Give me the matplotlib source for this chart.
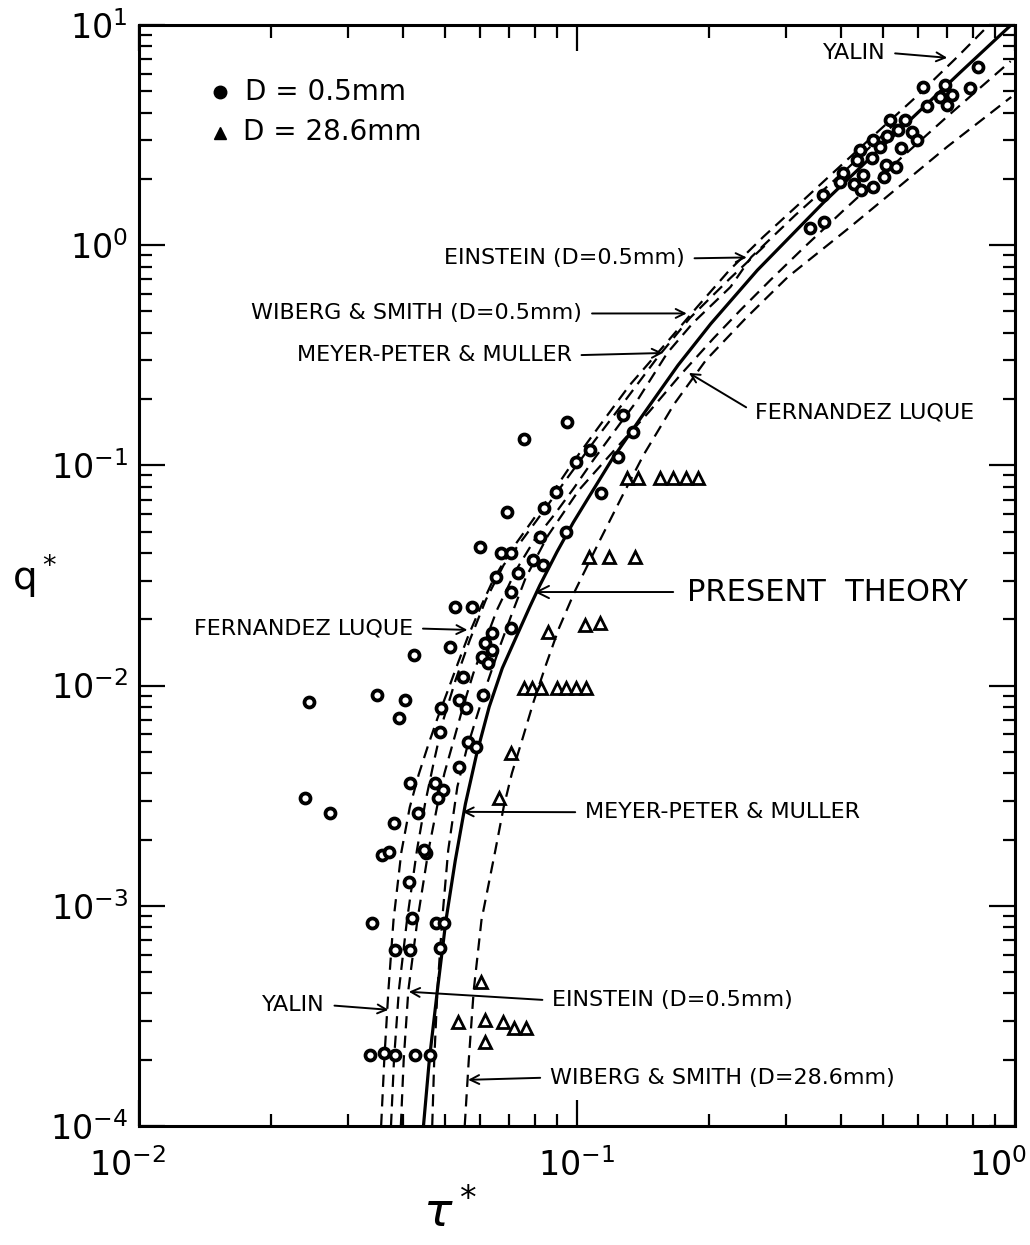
"""Bedload transport q* vs Shields stress tau*: data for D=0.5mm and
D=28.6mm against the present theory and five empirical formulas."""

import matplotlib
matplotlib.use("Agg")
import matplotlib.pyplot as plt
from matplotlib.transforms import ScaledTranslation
from matplotlib.ticker import LogLocator, NullFormatter

INK = "black"

# measured points, D = 0.5 mm (hollow circles)
fine_tau = [0.824, 0.791, 0.616, 0.692, 0.719, 0.675, 0.631, 0.701, 0.518, 0.561,
            0.541, 0.583, 0.511, 0.598, 0.473, 0.492, 0.443, 0.548, 0.436, 0.472,
            0.507, 0.535, 0.405, 0.449, 0.501, 0.399, 0.428, 0.444, 0.473, 0.365,
            0.341, 0.366, 0.127, 0.134, 0.107, 0.0992, 0.124, 0.0948, 0.0757, 0.1136,
            0.0897, 0.0840, 0.0693, 0.0946, 0.0601, 0.0671, 0.0706, 0.0824, 0.0792, 0.0834,
            0.0734, 0.0652, 0.0705, 0.0526, 0.0577, 0.0641, 0.0706, 0.0514, 0.0425, 0.0615,
            0.0638, 0.0607, 0.0625, 0.0548, 0.0537, 0.0490, 0.0557, 0.0611, 0.0244, 0.0350,
            0.0405, 0.0393, 0.0486, 0.0565, 0.0589, 0.0537, 0.0415, 0.0473, 0.0493, 0.0481,
            0.0434, 0.0382, 0.0451, 0.0239, 0.0273, 0.0358, 0.0373, 0.0414, 0.0341, 0.0420,
            0.0477, 0.0498, 0.0385, 0.0416, 0.0486, 0.0337, 0.0363, 0.0384, 0.0426, 0.0461,
            0.0447]
fine_q = [6.44, 5.17, 5.22, 5.34, 4.81, 4.71, 4.29, 4.34, 3.70, 3.70,
          3.34, 3.27, 3.13, 3.01, 3.01, 2.79, 2.71, 2.76, 2.44, 2.49,
          2.31, 2.26, 2.13, 2.08, 2.04, 1.94, 1.90, 1.78, 1.84, 1.69,
          1.20, 1.27, 0.169, 0.142, 0.1175, 0.1038, 0.109, 0.157, 0.132, 0.075,
          0.0757, 0.0641, 0.0614, 0.0499, 0.0427, 0.040, 0.040, 0.0473, 0.0372, 0.0353,
          0.0325, 0.0311, 0.0266, 0.0228, 0.0228, 0.0173, 0.0183, 0.0150, 0.01377, 0.01563,
          0.01452, 0.0135, 0.01268, 0.01094, 0.00861, 0.00792, 0.00792, 0.00906, 0.00843, 0.00906,
          0.00861, 0.00713, 0.00616, 0.00555, 0.00526, 0.00428, 0.00361, 0.00361, 0.00336, 0.00309,
          0.00264, 0.00238, 0.00174, 0.00309, 0.00264, 0.00170, 0.00176, 0.00128, 0.000836, 0.00088,
          0.000836, 0.000836, 0.000631, 0.000631, 0.000644, 0.00021, 0.000215, 0.00021, 0.00021, 0.00021,
          0.00179]

# measured points, D = 28.6 mm (hollow triangles)
coarse_tau = [0.130, 0.138, 0.155, 0.166, 0.177, 0.189,
              0.1065, 0.1185, 0.1355,
              0.0860, 0.1042, 0.113,
              0.0755, 0.0791, 0.0828, 0.0899, 0.0942, 0.0993, 0.1047,
              0.0706, 0.0662, 0.0605,
              0.0536, 0.0617, 0.0676, 0.0719, 0.0766, 0.0617]
coarse_q = [0.0877, 0.0877, 0.0877, 0.0877, 0.0877, 0.0877,
            0.0384, 0.0384, 0.0384,
            0.01754, 0.01885, 0.01925,
            0.00975, 0.00975, 0.00975, 0.00975, 0.00975, 0.00975, 0.00975,
            0.00494, 0.00309, 0.000451,
            0.000297, 0.000303, 0.000297, 0.000279, 0.000279, 0.000241]

# present theory (solid)
theory_tau = [0.0446, 0.0460, 0.0480, 0.0502, 0.0527, 0.0556, 0.0590, 0.0630,
              0.0675, 0.0730, 0.0780, 0.0822, 0.0900, 0.0980, 0.106, 0.120,
              0.140, 0.170, 0.202, 0.258, 0.365, 0.533, 0.750, 1.0]
theory_q = [1.0e-4, 2.0e-4, 4.15e-4, 8.6e-4, 1.6e-3, 2.9e-3, 4.9e-3, 8.0e-3,
            0.0120, 0.0170, 0.0228, 0.0285, 0.0405, 0.0550, 0.071, 0.106,
            0.165, 0.285, 0.44, 0.77, 1.56, 3.2, 6.1, 10.4]

# empirical formulas (dashed)
yalin_tau = [0.0357, 0.0363, 0.0371, 0.0381, 0.0397, 0.0415, 0.0435, 0.0457, 0.0480,
             0.0507, 0.0535, 0.0565, 0.0604, 0.0645, 0.0700, 0.0800, 0.0887, 0.0981,
             0.113, 0.132, 0.157, 0.188, 0.223, 0.266, 0.335, 0.450, 0.600, 0.740, 0.880]
yalin_q = [1.0e-4, 2.0e-4, 4.15e-4, 8.6e-4, 1.75e-3, 2.8e-3, 3.95e-3, 5.35e-3, 7.1e-3,
           9.5e-3, 0.0127, 0.0169, 0.0230, 0.0305, 0.0400, 0.0580, 0.0773, 0.104,
           0.153, 0.232, 0.345, 0.524, 0.772, 1.09, 1.66, 2.85, 4.8, 7.2, 10.2]

wiberg_fine_tau = [0.0376, 0.0382, 0.0392, 0.0409, 0.0431, 0.0450, 0.0472, 0.0495, 0.0528,
                   0.0569, 0.0619, 0.0680, 0.0810, 0.0943, 0.110, 0.129, 0.1524, 0.181,
                   0.224, 0.269]
wiberg_fine_q = [1.0e-4, 2.0e-4, 4.15e-4, 8.6e-4, 1.79e-3, 2.93e-3, 4.59e-3, 6.98e-3, 0.0106,
                 0.0161, 0.0245, 0.0353, 0.0565, 0.0859, 0.1305, 0.198, 0.308, 0.467,
                 0.710, 1.0]

einstein_tau = [0.0396, 0.0402, 0.0412, 0.0432, 0.0458, 0.0481, 0.0498, 0.0523, 0.0549,
                0.0580, 0.0615, 0.0656, 0.0726, 0.0800, 0.0889, 0.0984, 0.109, 0.1257,
                0.1374, 0.1607, 0.184, 0.224, 0.250, 0.315, 0.411, 0.527]
einstein_q = [1.0e-4, 2.0e-4, 4.15e-4, 8.6e-4, 1.79e-3, 2.93e-3, 4.0e-3, 5.66e-3, 8.0e-3,
              0.0114, 0.01563, 0.0220, 0.0335, 0.0460, 0.0600, 0.0790, 0.106, 0.156,
              0.198, 0.324, 0.444, 0.646, 0.884, 1.37, 2.20, 3.51]

mpm_tau = [0.0467, 0.0472, 0.0480, 0.0492, 0.0508, 0.0533, 0.0559, 0.0587, 0.0624,
           0.0671, 0.0710, 0.0764, 0.0858, 0.101, 0.122, 0.146, 0.172, 0.205,
           0.236, 0.277, 0.329, 0.406, 0.502, 0.700, 0.977]
mpm_q = [1.0e-4, 2.0e-4, 4.15e-4, 8.6e-4, 1.79e-3, 3.47e-3, 5.1e-3, 6.98e-3, 0.0103,
         0.01563, 0.0212, 0.0310, 0.0480, 0.0773, 0.118, 0.175, 0.257, 0.378,
         0.507, 0.698, 0.973, 1.44, 2.12, 3.84, 6.85]

wiberg_coarse_tau = [0.0554, 0.0566, 0.0581, 0.0605, 0.0651, 0.0680, 0.0710, 0.0750,
                     0.0795, 0.0850, 0.0910, 0.0990, 0.112, 0.1265, 0.142, 0.1666,
                     0.197, 0.243, 0.303, 0.416, 0.502, 0.700, 0.980]
wiberg_coarse_q = [1.0e-4, 2.0e-4, 4.15e-4, 8.6e-4, 1.79e-3, 2.81e-3, 4.0e-3, 5.7e-3,
                   8.4e-3, 0.0125, 0.0183, 0.0270, 0.0445, 0.0719, 0.112, 0.190,
                   0.301, 0.467, 0.718, 1.19, 1.62, 2.80, 4.71]

# (label, arrow tip tau, arrow tip q, text x, text y in axes fraction, ha)
LABELS = [
    ("YALIN", 0.70, 7.1, 0.852, 0.975, "right"),
    ("EINSTEIN (D=0.5mm)", 0.244, 0.88, 0.623, 0.788, "right"),
    ("WIBERG & SMITH (D=0.5mm)", 0.178, 0.49, 0.506, 0.738, "right"),
    ("MEYER-PETER & MULLER", 0.157, 0.324, 0.494, 0.700, "right"),
    ("FERNANDEZ LUQUE", 0.18, 0.263, 0.703, 0.648, "left"),
    ("FERNANDEZ LUQUE", 0.0562, 0.0179, 0.313, 0.452, "right"),
    ("MEYER-PETER & MULLER", 0.0548, 0.00267, 0.509, 0.285, "left"),
    ("YALIN", 0.0371, 3.37e-4, 0.212, 0.110, "right"),
    ("EINSTEIN (D=0.5mm)", 0.0413, 4.07e-4, 0.4715, 0.114, "left"),
    ("WIBERG & SMITH (D=28.6mm)", 0.0564, 1.62e-4, 0.469, 0.044, "left"),
]

fig = plt.figure(figsize=(10.3, 12.45), dpi=100)
fig.patch.set_facecolor("white")
ax = fig.add_axes([0.135, 0.0956, 0.8505, 0.8843])
ax.set_xscale("log")
ax.set_yscale("log")
ax.set_xlim(1e-2, 1)
ax.set_ylim(1e-4, 10)

dash = (0, (5.5, 3.3))
for tau, q in [(yalin_tau, yalin_q), (wiberg_fine_tau, wiberg_fine_q),
               (einstein_tau, einstein_q), (mpm_tau, mpm_q),
               (wiberg_coarse_tau, wiberg_coarse_q)]:
    ax.plot(tau, q, color=INK, lw=1.6, ls=dash, zorder=2)
ax.plot(theory_tau, theory_q, color=INK, lw=2.3, zorder=3)

ax.plot(fine_tau, fine_q, ls="none", marker="o", ms=7.2, mfc="white",
        mec=INK, mew=2.7, zorder=4)
ax.plot(coarse_tau, coarse_q, ls="none", marker="^", ms=9, mfc="white",
        mec=INK, mew=2.0, zorder=4)

# legend drawn by hand (filled symbols, no frame)
ax.plot([0.0925], [0.939], transform=ax.transAxes, marker="o", ms=9,
        color=INK, ls="none")
ax.text(0.121, 0.939, "D = 0.5mm", transform=ax.transAxes, fontsize=20,
        va="center", ha="left")
ax.plot([0.0925], [0.902], transform=ax.transAxes, marker="^", ms=8,
        color=INK, ls="none")
ax.text(0.119, 0.903, "D = 28.6mm", transform=ax.transAxes, fontsize=20,
        va="center", ha="left")

for text, t, q, fx, fy, ha in LABELS:
    rel = (1, 0.5) if ha == "right" else (0, 0.5)
    ax.annotate(text, xy=(t, q), xycoords="data", xytext=(fx, fy),
                textcoords="axes fraction", ha=ha, va="center", fontsize=16,
                color=INK,
                arrowprops=dict(arrowstyle="->", lw=1.4, color=INK,
                                shrinkA=5, shrinkB=0, relpos=rel))
ax.annotate("PRESENT  THEORY", xy=(0.080, 0.0266), xycoords="data",
            xytext=(0.6256, 0.485), textcoords="axes fraction", ha="left",
            va="center", fontsize=22, color=INK,
            arrowprops=dict(arrowstyle="->", lw=1.4, color=INK, shrinkA=8,
                            shrinkB=0, relpos=(0, 0.5)))

ax.set_xticks([1e-2, 1e-1, 1])
ax.set_xticklabels([r"$\mathdefault{10^{-2}}$", r"$\mathdefault{10^{-1}}$",
                    r"$\mathdefault{10^{0}}$"])
ax.xaxis.set_minor_locator(LogLocator(base=10, subs=range(2, 10), numticks=20))
ax.xaxis.set_minor_formatter(NullFormatter())
ax.yaxis.set_major_locator(LogLocator(base=10, numticks=20))
ax.yaxis.set_minor_locator(LogLocator(base=10, subs=range(2, 10), numticks=20))
ax.yaxis.set_minor_formatter(NullFormatter())
ax.tick_params(which="both", direction="in", top=True, right=True,
               width=1.6, color=INK)
ax.tick_params(which="major", length=19, labelsize=24)
ax.tick_params(which="minor", length=9)
ax.tick_params(axis="x", which="major", pad=16)
ax.tick_params(axis="y", which="major", pad=8)
for s in ax.spines.values():
    s.set_linewidth(2.2)
    s.set_color(INK)

# end labels of the x axis sit a little inward, as on the scan
xlabels = ax.get_xticklabels()
xlabels[0].set_transform(xlabels[0].get_transform()
                         + ScaledTranslation(-0.12, 0, fig.dpi_scale_trans))
xlabels[-1].set_horizontalalignment("right")
xlabels[-1].set_transform(xlabels[-1].get_transform()
                          + ScaledTranslation(0.12, 0, fig.dpi_scale_trans))

fig.text(0.012, 0.538, "q$^*$", fontsize=28, va="center", ha="left")
fig.text(0.437, 0.026, r"$\tau^*$", fontsize=34, va="center", ha="center")

fig.savefig("out.png", dpi=100, facecolor="white")
